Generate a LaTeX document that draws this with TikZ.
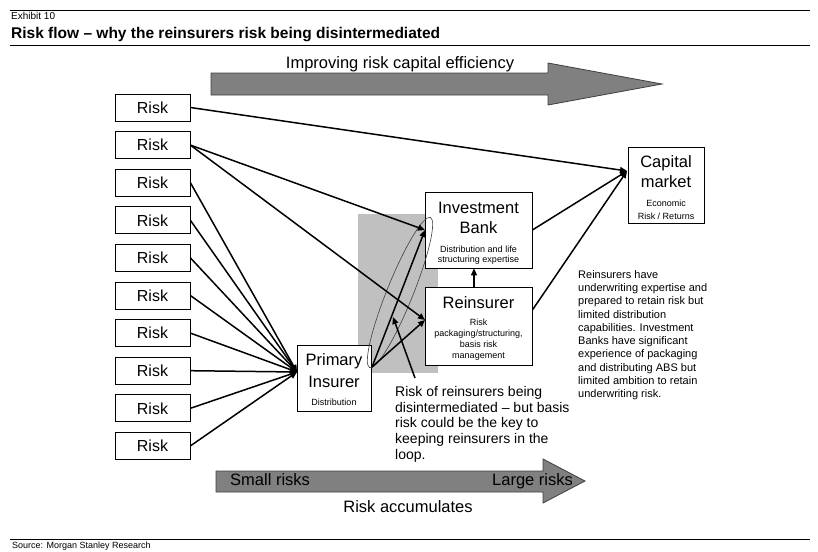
\documentclass[tikz,border=0pt]{standalone}
\usepackage{fontspec}
\setmainfont{Liberation Sans}
\usetikzlibrary{arrows.meta}
\definecolor{arrowgray}{HTML}{808080}
\definecolor{arrowedge}{HTML}{404040}
\definecolor{shadegray}{HTML}{C0C0C0}
\definecolor{ellcol}{HTML}{404040}
\begin{document}
\begin{tikzpicture}[x=1pt,y=-1pt,
  box/.style={draw=black, line width=0.8pt, inner sep=0pt, fill=white},
  riskbox/.style={box, minimum width=75pt, minimum height=27pt, font=\fontsize{16}{19}\selectfont},
  conn/.style={line width=1.5pt, -{Triangle[length=7pt,width=6pt]}},
  txt/.style={inner sep=0pt, anchor=base},
  big/.style={font=\fontsize{16.5}{19}\selectfont},
  small/.style={font=\fontsize{9}{10}\selectfont},
  blockarrow/.style={fill=arrowgray, draw=arrowedge, line width=0.8pt},
  rule/.style={line width=0.8pt}
]
\useasboundingbox (0,0) rectangle (818,551);

% header and footer
\draw[rule] (10,10) -- (810,10);
\draw[rule] (10,45.5) -- (810,45.5);
\draw[rule] (10,539) -- (810,539);
\node[txt, anchor=base west, font=\fontsize{10}{12}\selectfont] (exh) at (11,20) {Exhibit 10};
\node[txt, anchor=base west, font=\fontsize{15.5}{18}\selectfont\bfseries] (title) at (11,38.5) {Risk flow – why the reinsurers risk being disintermediated};
\node[txt, anchor=base west, font=\fontsize{9}{11}\selectfont] (src) at (12,548) {Source: Morgan Stanley Research};

% block arrows
\draw[blockarrow] (211,73) -- (548,73) -- (548,63) -- (662,84) -- (548,105) -- (548,95) -- (211,95) -- cycle;
\node[txt, big] (imp) at (400,68) {Improving risk capital efficiency};
\draw[blockarrow] (216,471) -- (543,471) -- (543,459) -- (585,481) -- (543,503) -- (543,492) -- (216,492) -- cycle;
\node[txt, big, anchor=base west] (small) at (230,485) {Small risks};
\node[txt, big, anchor=base west] (large) at (492,485) {Large risks};
\node[txt, big] (accum) at (408,512) {Risk accumulates};

% shaded region
\fill[shadegray] (358,214) rectangle (438,373);

% risk boxes
\foreach \i/\y in {1/107.5,2/145.1,3/182.7,4/220.3,5/257.9,6/295.5,7/333.1,8/370.7,9/408.3,10/445.9}
  \node[riskbox] (r\i) at (152.5,\y) {Risk};

% main boxes
\node[box, minimum width=74pt, minimum height=66pt] (pi) at (334,378) {};
\node[box, minimum width=107pt, minimum height=76pt] (ib) at (478.5,230) {};
\node[box, minimum width=107pt, minimum height=78pt] (rb) at (478.5,326) {};
\node[box, minimum width=76pt, minimum height=76pt] (cm) at (666,185) {};

% box texts
\node[txt, big] (pi1) at (334,365) {Primary};
\node[txt, big] (pi2) at (334,387) {Insurer};
\node[txt, small] (pi3) at (334,405) {Distribution};

\node[txt, big] (ib1) at (478.5,213) {Investment};
\node[txt, big] (ib2) at (478.5,233) {Bank};
\node[txt, small] (ib3) at (478.5,252) {Distribution and life};
\node[txt, small] (ib4) at (478.5,262) {structuring expertise};

\node[txt, big] (rb1) at (478.5,308) {Reinsurer};
\node[txt, small] (rb2) at (478.5,325) {Risk};
\node[txt, small] (rb3) at (478.5,336) {packaging/structuring,};
\node[txt, small] (rb4) at (478.5,347) {basis risk};
\node[txt, small] (rb5) at (478.5,358) {management};

\node[txt, big] (cm1) at (666,167) {Capital};
\node[txt, big] (cm2) at (666,187) {market};
\node[txt, small] (cm3) at (666,206) {Economic};
\node[txt, small] (cm4) at (666,219) {Risk / Returns};

% ellipse
\draw[ellcol, line width=0.6pt, rotate around={68:(400,292.5)}] (400,292.5) ellipse [x radius=81pt, y radius=13pt];

% connector end points
\coordinate (cmin) at (627,171);
\coordinate (ibin) at (425,230);
\coordinate (rbin) at (425,320);
\coordinate (piin) at (297,372);
\coordinate (piout) at (372,367);
\coordinate (ptxt) at (415,378);
\coordinate (ptip) at (393,317);

% connectors
\draw[conn] (r1.east) -- (cmin);
\draw[conn] (r2.east) -- (ibin);
\draw[conn] (r2.east) -- (rbin);
\foreach \i in {3,...,10}
  \draw[conn] (r\i.east) -- (piin);
\draw[conn] (piout) -- (ibin);
\draw[conn] (piout) -- (rbin);
\draw[conn] ([xshift=-4.5pt]rb.north) -- ([xshift=-4.5pt]ib.south);
\draw[conn] (ib.east) -- (cmin);
\draw[conn] ([yshift=16pt]rb.east) -- (cmin);
\draw[conn] (ptxt) -- (ptip);

% annotations
\node[inner sep=0pt, anchor=north west, align=left, font=\fontsize{14}{15.8}\selectfont] (note) at (395,386)
  {Risk of reinsurers being\\disintermediated – but basis\\risk could be the key to\\keeping reinsurers in the\\loop.};
\node[inner sep=0pt, anchor=north west, align=left, font=\fontsize{11}{13.3}\selectfont] (side) at (578,270)
  {Reinsurers have\\underwriting expertise and\\prepared to retain risk but\\limited distribution\\capabilities. Investment\\Banks have significant\\experience of packaging\\and distributing ABS but\\limited ambition to retain\\underwriting risk.};
\end{tikzpicture}
\end{document}
